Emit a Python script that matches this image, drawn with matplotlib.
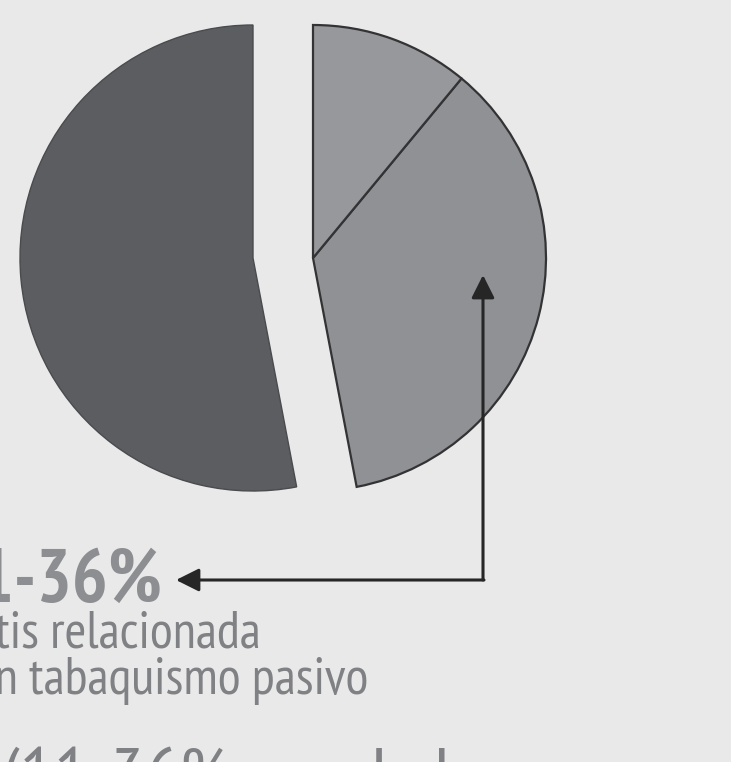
import matplotlib
matplotlib.use("Agg")
import matplotlib.pyplot as plt

# shares in percent (left piece / right lower / right upper)
left_share = [53]
right_shares = [36, 11]
left_colors = ["#5b5d60"]
right_colors = ["#8f9194", "#97989b"]

big_label = "11-36%"
sub_lines = ["Bronquitis relacionada", "con tabaquismo pasivo"]
bottom_line = "(11-36% son de las causas de"

W, H = 731, 762
NARROW = ["PT Sans Narrow", "Fira Sans Condensed", "Roboto Condensed",
          "Archivo Narrow", "Liberation Sans Narrow", "DejaVu Sans"]
BG = "#e9e9e9"

fig = plt.figure(figsize=(W / 100, H / 100), dpi=100)
fig.patch.set_facecolor(BG)
ax = fig.add_axes([0, 0, 1, 1])
ax.set_facecolor(BG)

R = 233
cy = H - 258

# left piece, pulled to the left
ax.pie([v / 100 for v in left_share], startangle=90, counterclock=True,
       normalize=False, center=(253, cy), radius=R, colors=left_colors,
       wedgeprops=dict(edgecolor="#4a4b4e", linewidth=1.0))

# right pieces, pulled to the right
start = 90 - 360 * sum(right_shares) / 100
ax.pie([v / 100 for v in right_shares], startangle=start, counterclock=True,
       normalize=False, center=(313, cy), radius=R, colors=right_colors,
       wedgeprops=dict(edgecolor="#333335", linewidth=1.6))

# elbow arrow from the 36% slice to the label
arr_col = "#262626"
corner = (483, H - 580)
head = "-|>,head_length=0.7,head_width=0.35"
ax.annotate("", xy=(483, H - 275), xytext=corner,
            arrowprops=dict(arrowstyle=head, color=arr_col, lw=2.2,
                            shrinkA=0, shrinkB=0, mutation_scale=20))
ax.annotate("", xy=(176, H - 580), xytext=(corner[0] + 1, corner[1]),
            arrowprops=dict(arrowstyle=head, color=arr_col, lw=2.2,
                            shrinkA=0, shrinkB=0, mutation_scale=20))

ax.text(162, H - 602, big_label, ha="right", va="baseline", fontsize=54,
        fontweight="bold", family=NARROW, color="#8d8e91")
ax.text(261, H - 648, sub_lines[0], ha="right", va="baseline", fontsize=38,
        family=NARROW, color="#808184")
ax.text(368, H - 694, sub_lines[1], ha="right", va="baseline", fontsize=38,
        family=NARROW, color="#808184")
ax.text(2, H - 801, bottom_line, ha="left", va="baseline", fontsize=55,
        family=NARROW, color="#808184")

ax.set_xlim(0, W)
ax.set_ylim(0, H)
ax.set_aspect("equal")
ax.axis("off")

fig.savefig("out.png", dpi=100, facecolor=BG)
